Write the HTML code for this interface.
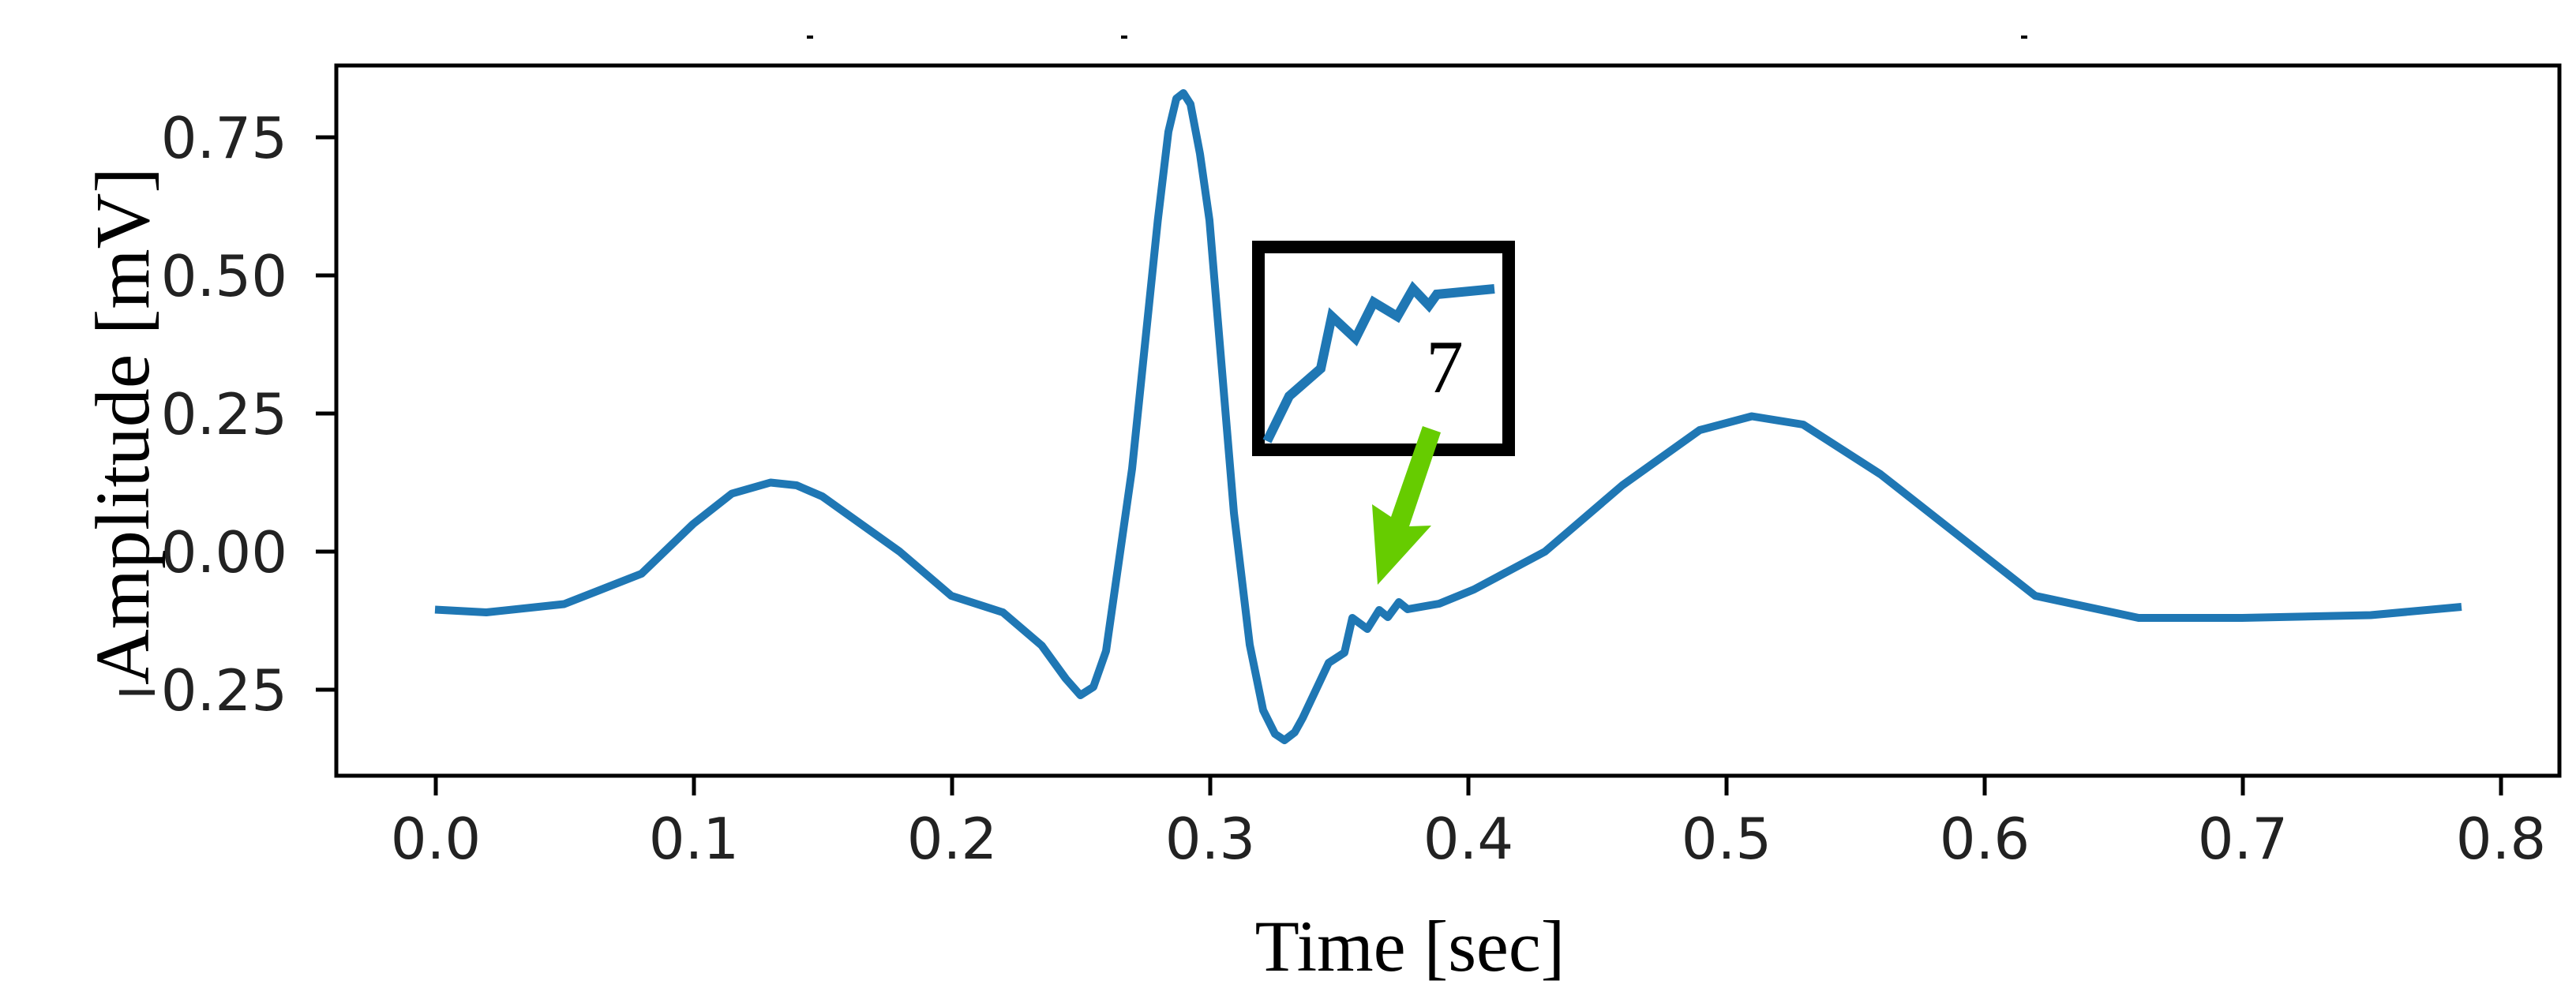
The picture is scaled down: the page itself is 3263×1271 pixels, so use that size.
<!DOCTYPE html>
<html><head><meta charset="utf-8"><style>html,body{margin:0;padding:0;background:#fff}svg{display:block}</style></head>
<body>
<svg width="3263" height="1271" viewBox="0 0 3263 1271" xmlns="http://www.w3.org/2000/svg">
<rect width="3263" height="1271" fill="#fff"/>
<g stroke="#000" stroke-width="4"><line x1="1022" y1="47" x2="1030" y2="47"/><line x1="1420" y1="47" x2="1428" y2="47"/><line x1="2560" y1="47" x2="2568" y2="47"/></g>
<rect x="426" y="83" width="2816" height="900" fill="none" stroke="#000" stroke-width="5"/>
<g stroke="#000" stroke-width="5">
<line x1="400" y1="174" x2="426" y2="174"/><line x1="400" y1="349" x2="426" y2="349"/><line x1="400" y1="524" x2="426" y2="524"/><line x1="400" y1="699" x2="426" y2="699"/><line x1="400" y1="874" x2="426" y2="874"/>
<line x1="552" y1="983" x2="552" y2="1008"/><line x1="879" y1="983" x2="879" y2="1008"/><line x1="1206" y1="983" x2="1206" y2="1008"/><line x1="1533" y1="983" x2="1533" y2="1008"/><line x1="1860" y1="983" x2="1860" y2="1008"/><line x1="2187" y1="983" x2="2187" y2="1008"/><line x1="2514" y1="983" x2="2514" y2="1008"/><line x1="2841" y1="983" x2="2841" y2="1008"/><line x1="3168" y1="983" x2="3168" y2="1008"/>
</g>
<g font-family="'DejaVu Sans',sans-serif" font-size="72" fill="#222" text-anchor="end">
<text x="364" y="200">0.75</text><text x="364" y="375">0.50</text><text x="364" y="550">0.25</text><text x="364" y="725">0.00</text><text x="364" y="900">−0.25</text>
</g>
<g font-family="'DejaVu Sans',sans-serif" font-size="72" fill="#222" text-anchor="middle">
<text x="552" y="1088">0.0</text><text x="879" y="1088">0.1</text><text x="1206" y="1088">0.2</text><text x="1533" y="1088">0.3</text><text x="1860" y="1088">0.4</text><text x="2187" y="1088">0.5</text><text x="2514" y="1088">0.6</text><text x="2841" y="1088">0.7</text><text x="3168" y="1088">0.8</text>
</g>
<text transform="translate(188,540) rotate(-90)" font-family="'Liberation Serif',serif" font-size="98" text-anchor="middle" fill="#000">Amplitude [mV]</text>
<text x="1786" y="1230" font-family="'Liberation Serif',serif" font-size="92" text-anchor="middle" fill="#000">Time [sec]</text>
<polyline fill="none" stroke="#1f77b4" stroke-width="10" stroke-linejoin="round" stroke-linecap="butt" points="551,772.5 616,776 714.5,765.5 812.6,727 878,664 927,625.5 976,611.5 1009,615 1041.5,629 1139.6,699 1205,755 1270.4,776 1319.5,818 1350,860 1368.5,881 1385,870.5 1401,825 1434,594 1466.6,279 1480,167 1490,125 1499,118 1508,132 1520,195 1532,279 1563,650 1583,817 1600,900 1615,930 1627,938 1640,928 1650,910 1683,840 1703,827 1713,783 1732,797 1747,773 1758,782 1772,763 1783,772 1823,765 1867,747 1957,699 2055,615 2153,545 2219,527.5 2284,538 2382,601 2480,678 2578,755 2709,783 2840,783 3003,779.5 3118,769"/>
<rect x="1594" y="313" width="317" height="257" fill="#fff" stroke="#000" stroke-width="16"/>
<polyline fill="none" stroke="#1f77b4" stroke-width="12" stroke-linejoin="miter" points="1605,559 1633,502 1673,467 1687,401 1717,429 1740,383 1770,401 1790,366 1810,387 1820,373 1893,366"/>
<text x="1830" y="497" font-family="'Liberation Serif',serif" font-size="95" text-anchor="middle" fill="#000">7</text>
<polygon points="1802,540 1825,548 1785,667 1813,666 1745,741 1738,639 1762,655" fill="#66cc00"/>
</svg>
</body></html>
